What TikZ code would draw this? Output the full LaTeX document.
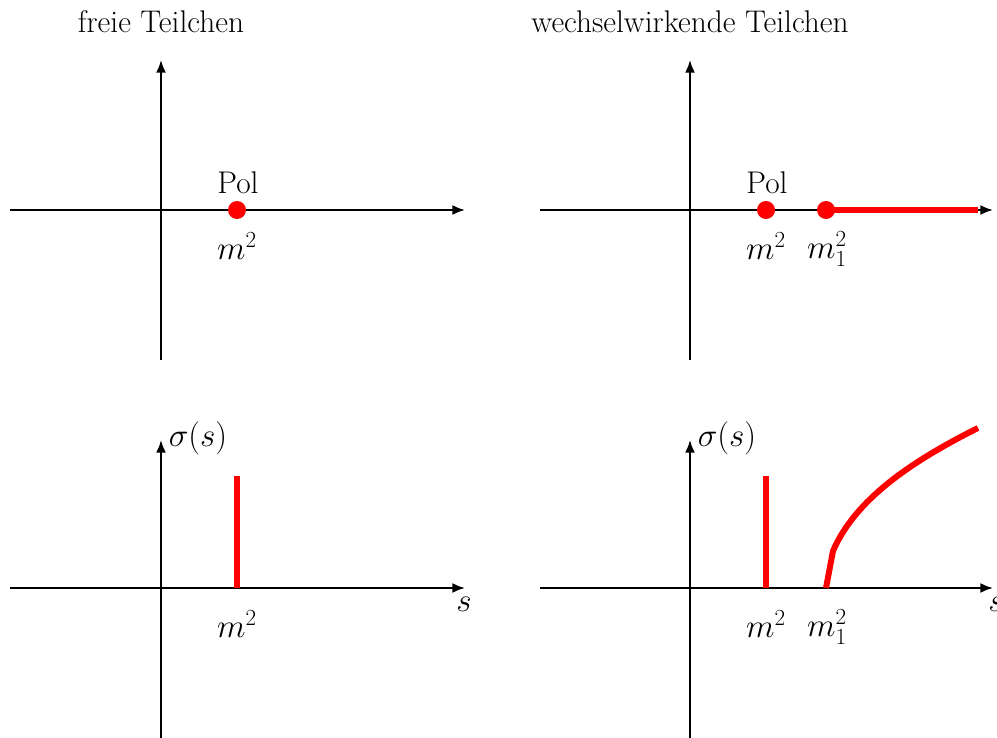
\documentclass[tikz,border=0pt]{standalone}
\usetikzlibrary{arrows.meta}
\begin{document}
\begin{tikzpicture}[x=0.75pt,y=-0.75pt,
  axis/.style={line width=1.5pt,-{Latex[length=9.5pt,width=7.5pt]}},
  redline/.style={red,line width=4.5pt},
  dot/.style={circle,fill=red,inner sep=0pt,minimum size=13.5pt},
  lbl/.style={font=\fontsize{23.5}{27}\selectfont,inner sep=0pt}]
\useasboundingbox (0,0) rectangle (997,738);
% titles
\node[lbl] (t1) at (161,22) {freie Teilchen};
\node[lbl] (t2) at (690,22) {wechselwirkende Teilchen};
% top left
\coordinate (a1l) at (10,210); \coordinate (a1r) at (465,210);
\coordinate (a1b) at (161,360); \coordinate (a1t) at (161,60);
\draw[axis] (a1l) -- (a1r);
\draw[axis] (a1b) -- (a1t);
\node[dot] (p1) at (237,210) {};
\node[lbl] (pol1) at (238,183) {Pol};
\node[lbl] (m1) at (237,246) {$m^2$};
% top right
\coordinate (a2l) at (540,210); \coordinate (a2r) at (993,210);
\coordinate (a2b) at (690,360); \coordinate (a2t) at (690,60);
\coordinate (cutE) at (978,210);
\draw[axis] (a2l) -- (a2r);
\draw[axis] (a2b) -- (a2t);
\node[dot] (p2) at (766,210) {};
\node[dot] (p3) at (826,210) {};
\draw[redline] (p3.center) -- (cutE);
\node[lbl] (pol2) at (767,183) {Pol};
\node[lbl] (m2) at (766,246) {$m^2$};
\node[lbl] (m3) at (827,249) {$m_1^2$};
% bottom left
\coordinate (b1l) at (10,588); \coordinate (b1r) at (465,588);
\coordinate (b1b) at (161,738); \coordinate (b1t) at (161,440);
\draw[axis] (b1l) -- (b1r);
\draw[axis] (b1b) -- (b1t);
\coordinate (d1b) at (237,588); \coordinate (d1t) at (237,476);
\draw[redline] (d1b) -- (d1t);
\node[lbl] (sig1) at (198,438) {$\sigma(s)$};
\node[lbl] (s1) at (464,604) {$s$};
\node[lbl] (m4) at (237,624) {$m^2$};
% bottom right
\coordinate (b2l) at (540,588); \coordinate (b2r) at (993,588);
\coordinate (b2b) at (690,738); \coordinate (b2t) at (690,440);
\draw[axis] (b2l) -- (b2r);
\draw[axis] (b2b) -- (b2t);
\coordinate (d2b) at (766,588); \coordinate (d2t) at (766,476);
\draw[redline] (d2b) -- (d2t);
\coordinate (c0) at (826,588); \coordinate (c1) at (833,551); \coordinate (c2) at (978,428);
\draw[redline] (c0) -- (c1) .. controls (855,500) and (910,462) .. (c2);
\node[lbl] (sig2) at (727,438) {$\sigma(s)$};
\node[lbl] (s2) at (996,604) {$s$};
\node[lbl] (m5) at (766,624) {$m^2$};
\node[lbl] (m6) at (827,627) {$m_1^2$};
\end{tikzpicture}
\end{document}
